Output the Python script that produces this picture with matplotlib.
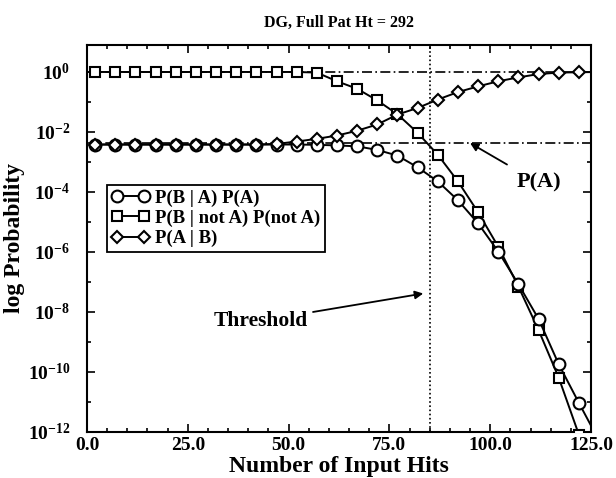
import numpy as np
import matplotlib
matplotlib.use("Agg")
import matplotlib.pyplot as plt
from matplotlib.ticker import FixedLocator, FormatStrFormatter, LogFormatterMathtext, NullFormatter

plt.rcParams['font.family'] = ['Liberation Serif', 'DejaVu Serif']
plt.rcParams['font.weight'] = 'bold'
plt.rcParams['mathtext.fontset'] = 'custom'
plt.rcParams['mathtext.rm'] = 'Liberation Serif:bold'
plt.rcParams['mathtext.bf'] = 'Liberation Serif:bold'
plt.rcParams['mathtext.it'] = 'Liberation Serif:bold'

# number of input hits (last point lies outside the axes and gets clipped)
hits = [2, 7, 12, 17, 22, 27, 32, 37, 42, 47, 52, 57, 62, 67, 72, 77, 82, 87,
        92, 97, 102, 107, 112, 117, 122, 127]

# log10 of each curve
log_pba_pa = [-2.42, -2.42, -2.42, -2.42, -2.42, -2.42, -2.42, -2.42, -2.42, -2.42,
              -2.42, -2.43, -2.45, -2.48, -2.60, -2.79, -3.18, -3.65, -4.28, -5.05,
              -5.99, -7.08, -8.24, -9.75, -11.04, -12.3]
log_pbna_pna = [0.0, 0.0, 0.0, 0.0, 0.0, 0.0, 0.0, 0.0, 0.0, 0.0,
                0.0, -0.02, -0.31, -0.56, -0.95, -1.41, -2.03, -2.76, -3.65, -4.68,
                -5.83, -7.16, -8.61, -10.2, -12.1, -14.0]
log_pab = [-2.42, -2.42, -2.42, -2.42, -2.42, -2.42, -2.42, -2.42, -2.42, -2.40,
           -2.32, -2.23, -2.12, -1.96, -1.75, -1.42, -1.20, -0.92, -0.67, -0.48,
           -0.31, -0.18, -0.07, -0.02, -0.01, 0.0]

threshold = 85
p_a = 10 ** -2.36
labels = ["P(B | A) P(A)", "P(B | not A) P(not A)", "P(A | B)"]

fig = plt.figure(figsize=(6.16, 4.78), dpi=100)
ax = fig.add_axes([87 / 616, 1 - 431.7 / 478, 504 / 616, 386.7 / 478])

mk = dict(color='black', linewidth=1.4, markerfacecolor='white',
          markeredgecolor='black', markeredgewidth=1.5, clip_on=True)
ax.plot(hits, 10 ** np.array(log_pba_pa), marker='o', markersize=8.5, label=labels[0], zorder=4, **mk)
ax.plot(hits, 10 ** np.array(log_pbna_pna), marker='s', markersize=7.5, label=labels[1], zorder=3, **mk)
ax.plot(hits, 10 ** np.array(log_pab), marker='D', markersize=6.5, label=labels[2], zorder=5, **mk)

# reference lines
ax.axhline(1.0, color='black', linestyle=(0, (6, 2, 1, 2)), linewidth=1.2, zorder=1)
ax.axhline(p_a, color='black', linestyle=(0, (6, 2, 1, 2)), linewidth=1.2, zorder=1)
ax.axvline(threshold, color='black', linestyle=(0, (1, 1.5)), linewidth=1.2, zorder=1)

ax.set_yscale('log')
ax.set_xlim(0, 125)
ax.set_ylim(1e-12, 10 ** 0.9)

ax.xaxis.set_major_locator(FixedLocator([0, 25, 50, 75, 100, 125]))
ax.xaxis.set_minor_locator(FixedLocator(np.arange(0, 126, 5)))
ax.xaxis.set_major_formatter(FormatStrFormatter('%.1f'))
ax.yaxis.set_major_locator(FixedLocator([10.0 ** k for k in range(-12, 1, 2)]))
ax.yaxis.set_minor_locator(FixedLocator([10.0 ** k for k in range(-11, 1, 2)]))
ax.yaxis.set_major_formatter(LogFormatterMathtext())
ax.yaxis.set_minor_formatter(NullFormatter())

ax.tick_params(which='both', direction='in', top=True, right=True, width=1.2)
ax.tick_params(which='major', length=6, labelsize=14)
ax.tick_params(which='minor', length=3)
ax.tick_params(axis='x', pad=4)
ax.tick_params(axis='y', pad=12)
for s in ax.spines.values():
    s.set_linewidth(1.5)

ax.set_title("DG, Full Pat Ht = 292", fontsize=11.5, fontweight='bold', pad=13)
ax.set_xlabel("Number of Input Hits", fontsize=17, fontweight='bold', labelpad=1)
ax.set_ylabel("log Probability", fontsize=17, fontweight='bold', labelpad=2)

ax.annotate("Threshold", xy=(83.4, 10 ** -7.39), xytext=(43, 10 ** -8.3),
            fontsize=15.5, fontweight='bold', ha='center', va='center',
            arrowprops=dict(arrowstyle='-|>', color='black', lw=1.3,
                            mutation_scale=12, shrinkA=2, shrinkB=0))
ax.annotate("P(A)", xy=(95, 10 ** -2.37), xytext=(112, 10 ** -3.7),
            fontsize=16, fontweight='bold', ha='center', va='center',
            arrowprops=dict(arrowstyle='-|>', color='black', lw=1.3,
                            mutation_scale=12, shrinkA=8, shrinkB=0))

leg = ax.legend(loc='upper left', bbox_to_anchor=(0.04, 0.638), borderaxespad=0,
                fontsize=13.5, numpoints=2, handlelength=2.0, handletextpad=0.3,
                borderpad=0.25, labelspacing=0.15, fancybox=False, framealpha=1,
                edgecolor='black')
leg.get_frame().set_linewidth(1.3)

fig.savefig("out.png", dpi=100)
